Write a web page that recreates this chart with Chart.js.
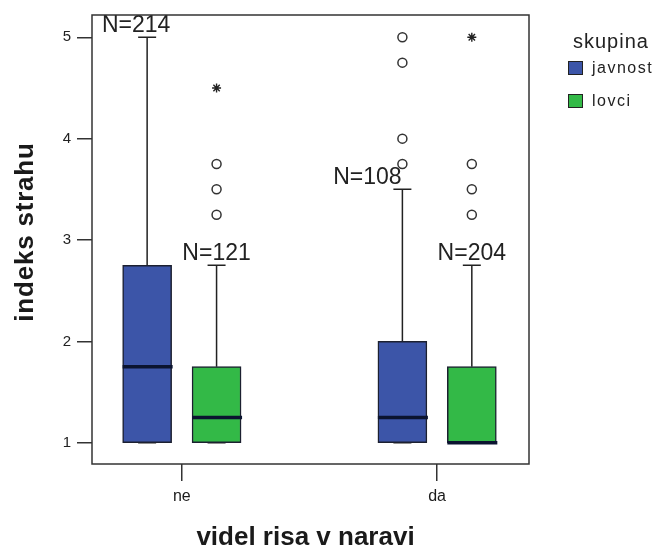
<!DOCTYPE html>
<html>
<head>
<meta charset="utf-8">
<script src="https://cdn.jsdelivr.net/npm/chart.js@4"></script>
<style>
  html, body { margin: 0; padding: 0; background: #fff; overflow: hidden; }
  #wrap { position: relative; width: 656px; height: 547px; }
</style>
</head>
<body>
<div id="wrap"><canvas id="c"></canvas></div>
<script>
// Box plot of "indeks strahu" by whether the respondent has seen a lynx, split by group.
const categories = ['ne', 'da'];
const groupNames = ['javnost', 'lovci'];
const yTicks = [1, 2, 3, 4, 5];

const javnostWhiskerLow = [1, 1];
const javnostQ1 = [1, 1];
const javnostMedian = [1.75, 1.25];
const javnostQ3 = [2.75, 2.0];
const javnostWhiskerHigh = [5.0, 3.5];
const javnostN = [214, 108];
const javnostOutliers = [[], [3.75, 4.0, 4.75, 5.0]];
const javnostExtremes = [[], []];

const lovciWhiskerLow = [1, 1];
const lovciQ1 = [1, 1];
const lovciMedian = [1.25, 1.0];
const lovciQ3 = [1.75, 1.75];
const lovciWhiskerHigh = [2.75, 2.75];
const lovciN = [121, 204];
const lovciOutliers = [[3.25, 3.5, 3.75], [3.25, 3.5, 3.75]];
const lovciExtremes = [[4.5], [5.0]];

const groups = [
  { name: groupNames[0], lo: javnostWhiskerLow, q1: javnostQ1, med: javnostMedian, q3: javnostQ3,
    hi: javnostWhiskerHigh, n: javnostN, out: javnostOutliers, ext: javnostExtremes },
  { name: groupNames[1], lo: lovciWhiskerLow, q1: lovciQ1, med: lovciMedian, q3: lovciQ3,
    hi: lovciWhiskerHigh, n: lovciN, out: lovciOutliers, ext: lovciExtremes }
];

// side-by-side placement of the two groups inside a category (x axis units)
const SHIFT = [-0.136, 0.136];
const FILL = ['#3c55a8', '#33b947'];
const FONT = '"Liberation Sans", Arial, sans-serif';

Chart.defaults.font.family = FONT;

const datasets = groups.map((g, gi) => ({
  type: 'bar',
  label: g.name,
  data: categories.map((c, ci) => ({ x: ci + SHIFT[gi], y: [g.q1[ci], g.q3[ci]] })),
  backgroundColor: FILL[gi],
  borderColor: '#1c2030',
  borderWidth: 1.5,
  borderSkipped: false,
  grouped: false,
  barThickness: 49,
  order: 2
}));

const points = key => groups.flatMap((g, gi) =>
  g[key].flatMap((vals, ci) => vals.map(v => ({ x: ci + SHIFT[gi], y: v }))));

datasets.push({
  type: 'scatter', label: 'outliers', data: points('out'),
  pointStyle: 'circle', pointRadius: 4.5,
  pointBackgroundColor: '#fff', pointBorderColor: '#333', pointBorderWidth: 1.5, order: 1
});
datasets.push({
  type: 'scatter', label: 'extremes', data: points('ext'),
  pointStyle: 'star', pointRadius: 4.5,
  pointBorderColor: '#222', pointBorderWidth: 1.4, order: 1
});

// whiskers, caps, medians and case counts for each box
const boxParts = {
  id: 'boxParts',
  beforeDatasetsDraw(chart) {
    const { ctx } = chart, y = chart.scales.y;
    ctx.save();
    ctx.strokeStyle = '#222';
    ctx.lineWidth = 1.5;
    groups.forEach((g, gi) => {
      chart.getDatasetMeta(gi).data.forEach((bar, ci) => {
        const { x } = bar.getProps(['x'], true);
        const yHi = y.getPixelForValue(g.hi[ci]), yQ3 = y.getPixelForValue(g.q3[ci]);
        const yLo = y.getPixelForValue(g.lo[ci]), yQ1 = y.getPixelForValue(g.q1[ci]);
        ctx.beginPath();
        ctx.moveTo(x, yQ3); ctx.lineTo(x, yHi);
        ctx.moveTo(x - 9, yHi); ctx.lineTo(x + 9, yHi);
        ctx.moveTo(x, yQ1); ctx.lineTo(x, yLo);
        ctx.moveTo(x - 9, yLo); ctx.lineTo(x + 9, yLo);
        ctx.stroke();
      });
    });
    ctx.restore();
  },
  afterDatasetsDraw(chart, args, opts) {
    const { ctx } = chart, y = chart.scales.y;
    ctx.save();
    groups.forEach((g, gi) => {
      chart.getDatasetMeta(gi).data.forEach((bar, ci) => {
        const { x, width } = bar.getProps(['x', 'width'], true);
        const ym = y.getPixelForValue(g.med[ci]);
        ctx.strokeStyle = '#0b1430';
        ctx.lineWidth = 3.5;
        ctx.beginPath();
        ctx.moveTo(x - width / 2, ym); ctx.lineTo(x + width / 2 + 1, ym);
        ctx.stroke();

        const dx = (opts.labelDx[gi] || [])[ci] || 0;
        ctx.fillStyle = '#222';
        ctx.font = '23px ' + FONT;
        ctx.textAlign = 'center';
        ctx.textBaseline = 'alphabetic';
        ctx.fillText('N=' + g.n[ci], x + dx, y.getPixelForValue(g.hi[ci]) - 5);
      });
    });
    ctx.restore();
  }
};

// plot frame, axis titles and the group legend
const decorations = {
  id: 'decorations',
  afterDraw(chart) {
    const { ctx, chartArea: a } = chart;
    ctx.save();
    ctx.strokeStyle = '#333';
    ctx.lineWidth = 1.5;
    ctx.strokeRect(a.left, a.top, a.right - a.left, a.bottom - a.top);

    ctx.fillStyle = '#1a1a1a';
    ctx.font = 'bold 26px ' + FONT;
    ctx.textAlign = 'center';
    ctx.textBaseline = 'alphabetic';
    ctx.fillText('videl risa v naravi', (a.left + a.right) / 2 - 5, 545);

    ctx.save();
    ctx.translate(33, 232);
    ctx.rotate(-Math.PI / 2);
    ctx.letterSpacing = '0.8px';
    ctx.fillText('indeks strahu', 0, 0);
    ctx.restore();

    ctx.textAlign = 'left';
    ctx.fillStyle = '#222';
    ctx.font = '20px ' + FONT;
    ctx.letterSpacing = '1px';
    ctx.fillText('skupina', 573, 48);

    ctx.font = '16px ' + FONT;
    ctx.letterSpacing = '1.5px';
    ctx.textBaseline = 'middle';
    groupNames.forEach((name, i) => {
      const top = 61 + i * 33;
      ctx.fillStyle = FILL[i];
      ctx.fillRect(568, top, 15, 14);
      ctx.strokeStyle = '#222';
      ctx.lineWidth = 1;
      ctx.strokeRect(568.5, top + 0.5, 14, 13);
      ctx.fillStyle = '#222';
      ctx.fillText(name, 592, top + 8);
    });
    ctx.letterSpacing = '0px';
    ctx.restore();
  }
};

new Chart(document.getElementById('c'), {
  type: 'bar',
  data: { datasets },
  plugins: [boxParts, decorations],
  options: {
    responsive: true,
    maintainAspectRatio: false,
    animation: false,
    layout: { padding: { left: 0, right: 127, top: 15, bottom: 0 } },
    plugins: {
      legend: { display: false },
      tooltip: { enabled: false },
      boxParts: { labelDx: [[-11, -35], [0, 0]] }
    },
    scales: {
      x: {
        type: 'linear', min: -0.352, max: 1.36, offset: false,
        afterBuildTicks: s => { s.ticks = categories.map((c, i) => ({ value: i })); },
        afterFit: s => { s.height = 83; },
        grid: { drawOnChartArea: false, drawTicks: true, tickLength: 17, color: '#333', lineWidth: 1.5, offset: false },
        border: { display: false },
        ticks: { padding: 6, color: '#1a1a1a', font: { size: 16 }, maxRotation: 0, callback: v => categories[v] }
      },
      y: {
        type: 'linear', min: 0.79, max: 5.22,
        afterBuildTicks: s => { s.ticks = yTicks.map(v => ({ value: v })); },
        afterFit: s => { s.width = 92; },
        grid: { drawOnChartArea: false, drawTicks: true, tickLength: 15, color: '#333', lineWidth: 1.5 },
        border: { display: false },
        ticks: { padding: 6, color: '#222', font: { size: 15 }, callback: v => String(v) }
      }
    }
  }
});
</script>
</body>
</html>
